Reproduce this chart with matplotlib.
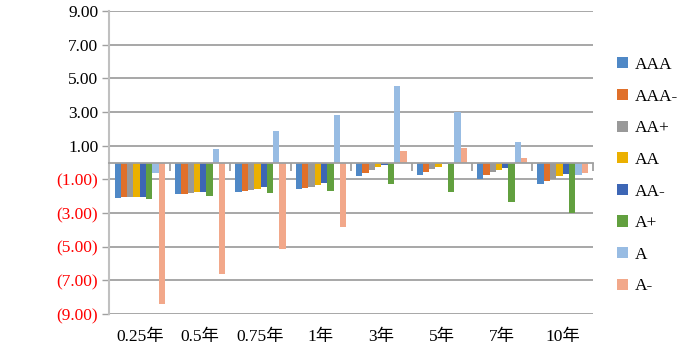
import matplotlib
matplotlib.use("Agg")
import matplotlib.pyplot as plt
import numpy as np
from matplotlib.ticker import FuncFormatter
import matplotlib.transforms as mtransforms

categories = ["0.25年", "0.5年", "0.75年", "1年", "3年", "5年", "7年", "10年"]
series_names = ["AAA", "AAA-", "AA+", "AA", "AA-", "A+", "A", "A-"]

AAA   = [-2.13, -1.87, -1.73, -1.55, -0.80, -0.76, -0.98, -1.26]
AAA_m = [-2.07, -1.87, -1.67, -1.49, -0.64, -0.56, -0.76, -1.08]
AA_p  = [-2.07, -1.81, -1.63, -1.43, -0.45, -0.39, -0.58, -0.98]
AA    = [-2.07, -1.77, -1.55, -1.34, -0.29, -0.25, -0.46, -0.82]
AA_m  = [-2.03, -1.75, -1.46, -1.24, -0.13, -0.07, -0.31, -0.70]
A_p   = [-2.19, -1.97, -1.83, -1.67, -1.30, -1.77, -2.33, -2.98]
A     = [-0.60,  0.78,  1.89,  2.80,  4.56,  2.98,  1.19, -0.74]
A_m   = [-8.43, -6.60, -5.12, -3.83,  0.68,  0.88,  0.27, -0.60]

series = [AAA, AAA_m, AA_p, AA, AA_m, A_p, A, A_m]
colors = ["#4F88C6", "#E0702A", "#999999", "#EBB000", "#3D66B5", "#62A03F", "#98BCE3", "#F2A88A"]

yticks = [-9, -7, -5, -3, -1, 1, 3, 5, 7, 9]

serif = ["Liberation Serif", "Noto Sans CJK SC", "DejaVu Sans"]
plt.rcParams['font.family'] = serif

fig = plt.figure(figsize=(7.0, 3.54), dpi=100)
ax = fig.add_axes([0.1564, 0.1130, 0.8469 - 0.1564, 0.9689 - 0.1130])

n = len(series)
x = np.arange(len(categories))
bw = 1.0 / 9.6
offsets = (np.arange(n) - (n - 1) / 2) * bw
handles = []
for i, (vals, c, name) in enumerate(zip(series, colors, series_names)):
    h = ax.bar(x + offsets[i], vals, width=bw, color=c, label=name, zorder=3,
               edgecolor='none')
    handles.append(h)

ax.set_xlim(-0.5, len(categories) - 0.5)
ax.set_ylim(-9, 9)
ax.set_yticks(yticks)

def fmt(v, pos):
    if v < 0:
        return "({:.2f})".format(-v)
    return "{:.2f}".format(v)
ax.yaxis.set_major_formatter(FuncFormatter(fmt))
for lab, v in zip(ax.get_yticklabels(), yticks):
    lab.set_color('red' if v < 0 else 'black')
    lab.set_fontsize(12.5)
ax.tick_params(axis='y', direction='out', length=5, width=1, color='#a0a0a0', pad=3)

ax.yaxis.grid(True, color='#a0a0a0', linewidth=1.3, zorder=0)
ax.set_axisbelow(True)

for s in ['top', 'right']:
    ax.spines[s].set_visible(False)
ax.spines['left'].set_color('#c0c0c0')
ax.spines['left'].set_linewidth(1.5)
ax.spines['bottom'].set_position(('data', 0))
ax.spines['bottom'].set_color('#a0a0a0')
ax.spines['bottom'].set_linewidth(1.3)
ax.spines['bottom'].set_zorder(4)

# category boundary ticks on the zero axis
ax.set_xticks(np.arange(len(categories) + 1) - 0.5)
ax.set_xticklabels([])
ax.tick_params(axis='x', direction='out', length=6, width=1.3, color='#a0a0a0')

trans = mtransforms.blended_transform_factory(ax.transData, ax.transAxes)
for xi, cat in zip(x, categories):
    ax.text(xi, -0.075, cat, transform=trans, ha='center', va='center',
            fontsize=12.5, family=serif)

fig.legend(handles=handles, labels=series_names, loc='upper left',
           bbox_to_anchor=(0.882, 1 - 57 / 354), frameon=False,
           prop={'family': serif, 'size': 12.5},
           handlelength=0.6, handleheight=0.6, handletextpad=0.4,
           labelspacing=0.9, borderpad=0, borderaxespad=0)

fig.savefig("out.png", dpi=100)
